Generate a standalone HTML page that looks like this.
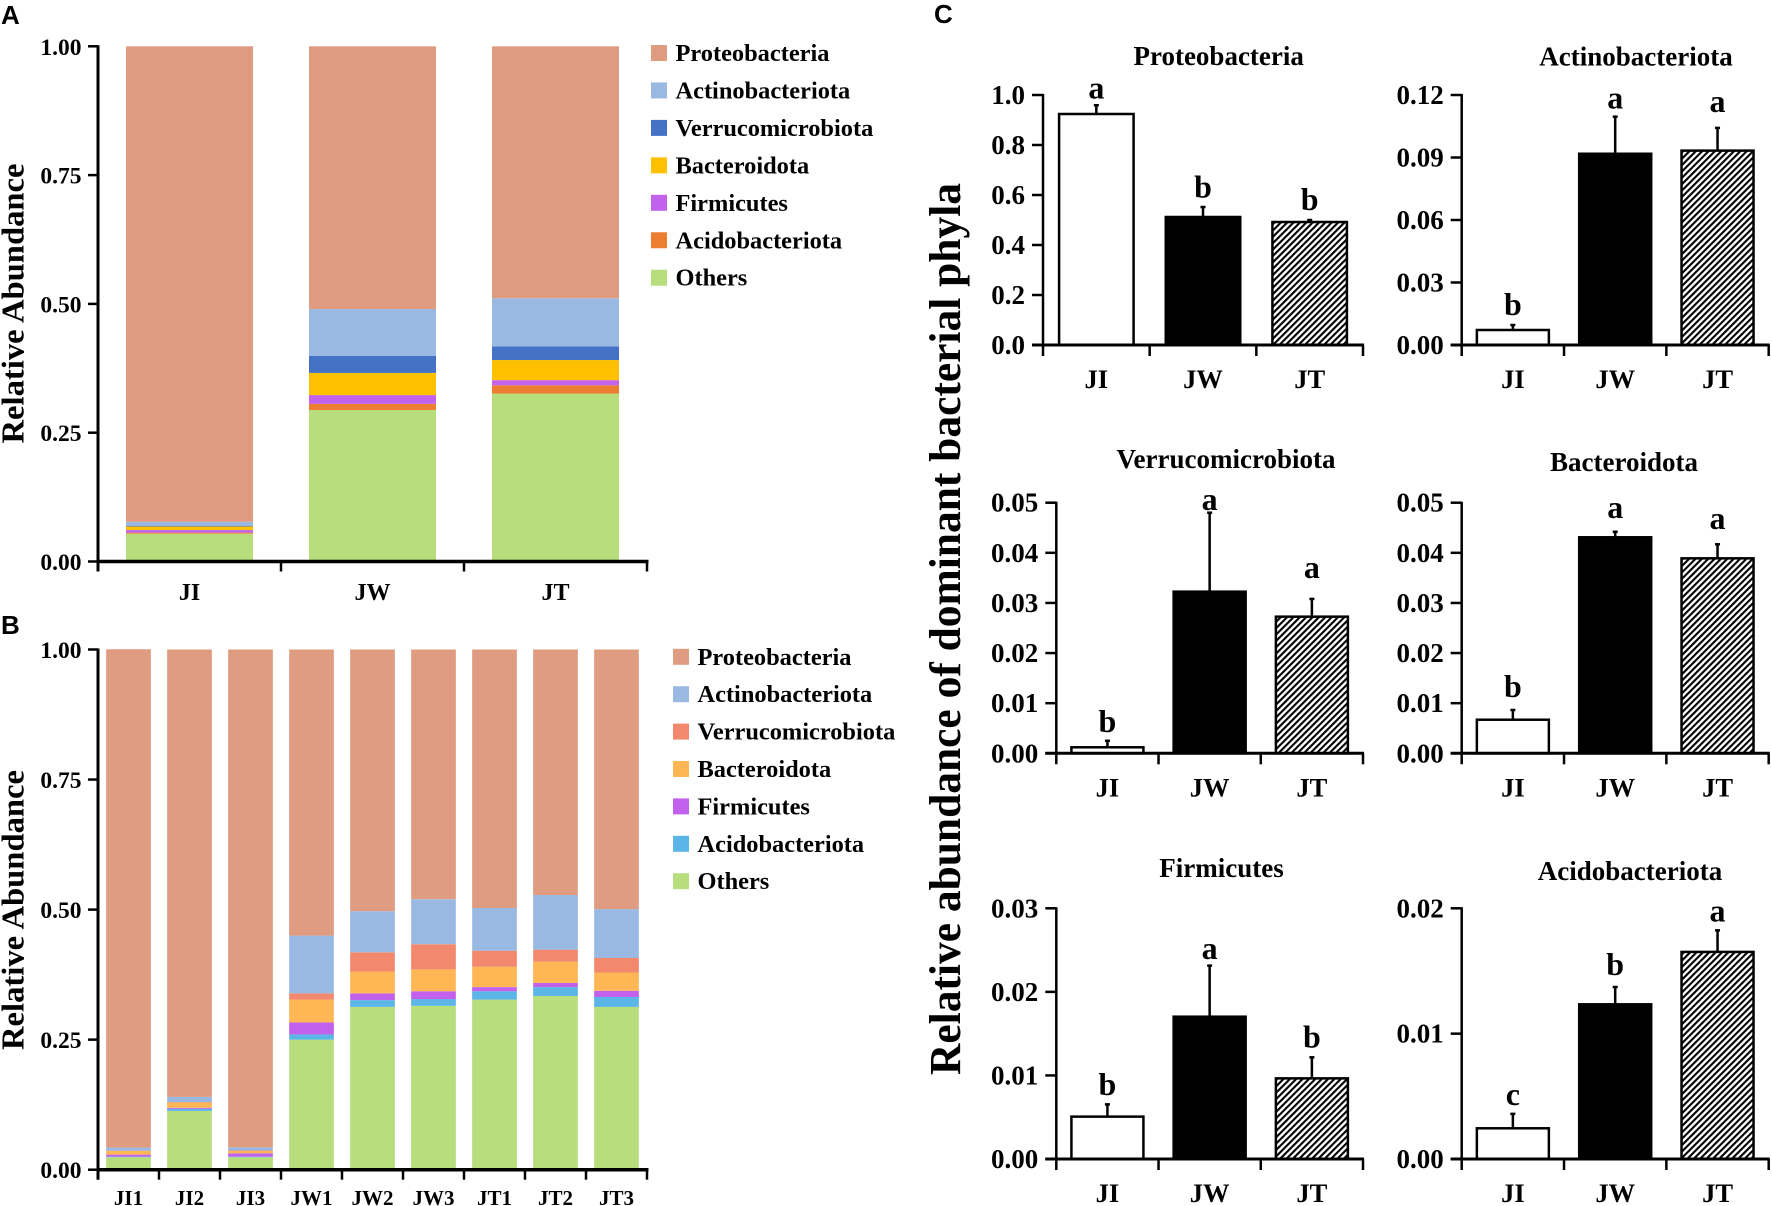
<!DOCTYPE html>
<html lang="en">
<head>
<meta charset="utf-8">
<title>Relative abundance of bacterial phyla</title>
<style>
html,body{margin:0;padding:0;background:#fff;}
svg{display:block;}
text{font-family:"Liberation Serif",serif;font-weight:bold;fill:#000;}
.letter{font-family:"Liberation Sans",sans-serif;font-size:26px;}
</style>
</head>
<body>
<svg id="fig" xmlns="http://www.w3.org/2000/svg" width="1772" height="1206" viewBox="0 0 1772 1206">
  <defs>
    <pattern id="hatch" patternUnits="userSpaceOnUse" width="4.5" height="4.5" patternTransform="rotate(45)">
      <rect width="4.5" height="4.5" fill="#fff"></rect>
      <rect width="2.1" height="4.5" fill="#000"></rect>
    </pattern>
  </defs>
  <text class="letter" x="1" y="24">A</text>
  <text class="letter" x="1" y="634">B</text>
  <text class="letter" x="934" y="23">C</text>
  <text transform="translate(23.5,443.5) rotate(-90)" font-size="32" textLength="280" lengthAdjust="spacingAndGlyphs">Relative Abundance</text>
  <text transform="translate(23.5,1050) rotate(-90)" font-size="32" textLength="280" lengthAdjust="spacingAndGlyphs">Relative Abundance</text>
  <text transform="translate(960,1075) rotate(-90)" font-size="44" textLength="892" lengthAdjust="spacingAndGlyphs">Relative abundance of dominant bacterial phyla</text>
  <g id="plots"></g>
</svg>
<script>
// ---------- Panel A / B data ----------
const stackOrder = ['Others','Acidobacteriota','Firmicutes','Bacteroidota','Verrucomicrobiota','Actinobacteriota','Proteobacteria'];
const legendOrder = ['Proteobacteria','Actinobacteriota','Verrucomicrobiota','Bacteroidota','Firmicutes','Acidobacteriota','Others'];
const stackTicks = [0, 0.25, 0.5, 0.75, 1];
const stackTickLabels = ['0.00','0.25','0.50','0.75','1.00'];

const aCategories = ['JI','JW','JT'];
const aOthers = [0.054,0.294,0.326];
const aAcido = [0.002,0.012,0.016];
const aFirm = [0.005,0.017,0.010];
const aBact = [0.007,0.043,0.039];
const aVerr = [0.0015,0.033,0.0265];
const aActino = [0.0075,0.091,0.0935];
const aProteo = [0.923,0.510,0.489];

const bCategories = ['JI1','JI2','JI3','JW1','JW2','JW3','JT1','JT2','JT3'];
const bOthers = [0.024,0.113,0.024,0.25,0.313,0.315,0.327,0.334,0.313];
const bAcido = [0.001,0.004,0.001,0.01,0.013,0.013,0.016,0.017,0.019];
const bFirm = [0.004,0.002,0.0065,0.023,0.013,0.015,0.008,0.008,0.012];
const bBact = [0.007,0.010,0.0045,0.044,0.042,0.042,0.039,0.041,0.035];
const bVerr = [0.0005,0.001,0.001,0.012,0.037,0.0485,0.031,0.023,0.028];
const bActino = [0.006,0.010,0.006,0.111,0.079,0.0865,0.082,0.105,0.094];
const bProteo = [0.958,0.860,0.957,0.55,0.503,0.48,0.497,0.472,0.499];

const aColors = {Proteobacteria:'#DF9C80',Actinobacteriota:'#9AB9E2',Verrucomicrobiota:'#4472C4',Bacteroidota:'#FFC000',Firmicutes:'#C261EC',Acidobacteriota:'#ED7D31',Others:'#B8DD7C'};
const bColors = {Proteobacteria:'#DF9C80',Actinobacteriota:'#9AB9E2',Verrucomicrobiota:'#F2886E',Bacteroidota:'#FFB756',Firmicutes:'#C261EC',Acidobacteriota:'#5BB5E6',Others:'#B8DD7C'};

// ---------- Panel C data ----------
const groupLabels = ['JI','JW','JT'];
const cTitles = ['Proteobacteria','Actinobacteriota','Verrucomicrobiota','Bacteroidota','Firmicutes','Acidobacteriota'];
const cMeans = [
  [0.924,0.512,0.492],
  [0.0072,0.0918,0.0933],
  [0.0012,0.03225,0.02726],
  [0.0067,0.0431,0.0389],
  [0.00507,0.01703,0.00965],
  [0.00245,0.01234,0.01652]
];
const cErrorTops = [
  [0.959,0.552,0.50],
  [0.0096,0.1096,0.1042],
  [0.0025,0.048,0.0308],
  [0.00864,0.0442,0.0417],
  [0.00654,0.02314,0.01217],
  [0.0036,0.01372,0.01824]
];
const cLetters = [['a','b','b'],['b','a','a'],['b','a','a'],['b','a','a'],['b','a','b'],['c','b','a']];
const cTicks = [
  [0,0.2,0.4,0.6,0.8,1.0],
  [0,0.03,0.06,0.09,0.12],
  [0,0.01,0.02,0.03,0.04,0.05],
  [0,0.01,0.02,0.03,0.04,0.05],
  [0,0.01,0.02,0.03],
  [0,0.01,0.02]
];
const cTickLabels = [
  ['0.0','0.2','0.4','0.6','0.8','1.0'],
  ['0.00','0.03','0.06','0.09','0.12'],
  ['0.00','0.01','0.02','0.03','0.04','0.05'],
  ['0.00','0.01','0.02','0.03','0.04','0.05'],
  ['0.00','0.01','0.02','0.03'],
  ['0.00','0.01','0.02']
];

// ---------- Drawing helpers ----------
const NS = 'http://www.w3.org/2000/svg';
const root = document.getElementById('plots');

function line(x1,y1,x2,y2,w,name){
  const el = document.createElementNS(NS,'line');
  el.setAttribute('x1',x1);el.setAttribute('y1',y1);el.setAttribute('x2',x2);el.setAttribute('y2',y2);
  el.setAttribute('stroke','#000');el.setAttribute('stroke-width',w);
  
  
  root.appendChild(el);
  return el;
}
function rect(x,y,w,h,fill,name){
  const el = document.createElementNS(NS,'rect');
  el.setAttribute('x',x);el.setAttribute('y',y);el.setAttribute('width',w);el.setAttribute('height',h);
  el.setAttribute('fill',fill);
  
  
  root.appendChild(el);
  return el;
}
function label(str,x,y,size,anchor,name){
  const el = document.createElementNS(NS,'text');
  el.setAttribute('x',x);el.setAttribute('y',y);el.setAttribute('font-size',size);
  el.setAttribute('text-anchor',anchor);
  el.textContent = str;
  
  
  root.appendChild(el);
  return el;
}

function stackedPanel(id,cats,series,colors,f){
  const y = v => f.y0 - v*(f.y0-f.y1);
  const band = (f.x1-f.x0)/cats.length;
  series.forEach(function(vals,si){
    cats.forEach(function(cat,ci){
      let base = 0;
      for(let k=0;k<si;k++){ base += series[k][ci]; }
      const cx = f.x0 + band*(ci+0.5);
      rect(cx-f.barW/2, y(base+vals[ci]), f.barW, y(base)-y(base+vals[ci]), colors[stackOrder[si]], id+'-bar-'+cat+'-'+stackOrder[si]);
    });
  });
  line(f.x0,f.y1-1,f.x0,f.y0+f.tickDown,3,id+'-y-axis');
  line(f.x0-1.5,f.y0,f.x1+1.5,f.y0,3.5,id+'-x-axis');
  stackTicks.forEach(function(t,i){
    line(f.x0-10,y(t),f.x0,y(t),2.5,id+'-y-tick-'+stackTickLabels[i]);
    label(stackTickLabels[i],f.x0-16.5,y(t)+8.5,23.5,'end',id+'-y-tick-label-'+stackTickLabels[i]);
  });
  for(let i=1;i<=cats.length;i++){
    line(f.x0+band*i,f.y0,f.x0+band*i,f.y0+f.tickDown,2.5,id+'-x-tick-'+i);
  }
  cats.forEach(function(cat,ci){
    label(cat,f.x0+band*(ci+0.5),f.labelY,f.labelSize,'middle',id+'-x-label-'+cat);
  });
  legendOrder.forEach(function(n,i){
    const cy = f.legY + i*f.legStep;
    rect(f.legX,cy-8,16,16,colors[n],id+'-legend-swatch-'+n);
    label(n,f.legX+24.5,cy+8,24.4,'start',id+'-legend-entry-'+n);
  });
}

function barPanel(idx,f){
  const id = 'panel-c-'+cTitles[idx];
  const ymax = cTicks[idx][cTicks[idx].length-1];
  const y = v => f.y0 - (v/ymax)*(f.y0-f.y1);
  const band = (f.x1-f.x0)/3;
  const fills = ['#fff','#000','url(#hatch)'];
  label(cTitles[idx],f.titleX,f.titleY+9,27,'middle',id+'-title');
  groupLabels.forEach(function(g,i){
    const cx = f.x0+band*(i+0.5);
    const top = y(cMeans[idx][i]);
    const errTop = y(cErrorTops[idx][i]);
    line(cx,errTop,cx,top,2.5,id+'-error-bar-'+g);
    line(cx-2.5,errTop,cx+2.5,errTop,2.5,id+'-error-cap-'+g);
    const b = rect(cx-f.barW/2,top,f.barW,f.y0-top,fills[i],id+'-bar-'+g);
    b.setAttribute('stroke','#000');
    b.setAttribute('stroke-width','2.5');
    label(cLetters[idx][i],cx,errTop-f.letterGap[i],32,'middle',id+'-significance-'+g);
    label(g,cx,f.y0+43,26.5,'middle',id+'-x-label-'+g);
  });
  line(f.x0,f.y1-1,f.x0,f.y0+11,2.5,id+'-y-axis');
  line(f.x0-11,f.y0,f.x1+1,f.y0,3,id+'-x-axis');
  for(let i=1;i<=3;i++){
    line(f.x0+band*i,f.y0,f.x0+band*i,f.y0+11,2.5,id+'-x-tick-'+i);
  }
  cTicks[idx].forEach(function(t,i){
    line(f.x0-11,y(t),f.x0,y(t),2.5,id+'-y-tick-'+cTickLabels[idx][i]);
    label(cTickLabels[idx][i],f.x0-18,y(t)+9,27,'end',id+'-y-tick-label-'+cTickLabels[idx][i]);
  });
}

// ---------- Render ----------
stackedPanel('panel-a',aCategories,[aOthers,aAcido,aFirm,aBact,aVerr,aActino,aProteo],aColors,
  {x0:98,x1:647,y0:561.5,y1:46.3,barW:127,tickDown:10,labelY:600,labelSize:24,legX:651,legY:53,legStep:37.45});
stackedPanel('panel-b',bCategories,[bOthers,bAcido,bFirm,bBact,bVerr,bActino,bProteo],bColors,
  {x0:98,x1:647,y0:1169.7,y1:649.5,barW:44.7,tickDown:10,labelY:1205,labelSize:21,legX:673,legY:656.8,legStep:37.4});

barPanel(0,{x0:1043,x1:1363,y0:345,y1:95,barW:74.5,titleX:1218.7,titleY:56,letterGap:[7,9.3,10]});
barPanel(1,{x0:1461.7,x1:1768.7,y0:345,y1:95,barW:72,titleX:1636,titleY:56.7,letterGap:[10,8,15.7]});
barPanel(2,{x0:1056.3,x1:1363,y0:753.3,y1:502.7,barW:72,titleX:1226,titleY:459,letterGap:[9,2.7,20.7]});
barPanel(3,{x0:1461.7,x1:1768.7,y0:753.3,y1:502.7,barW:72,titleX:1624,titleY:462,letterGap:[13,14,15.3]});
barPanel(4,{x0:1056.3,x1:1363,y0:1159,y1:908.3,barW:72,titleX:1221.5,titleY:868,letterGap:[9.3,6.7,9.7]});
barPanel(5,{x0:1461.7,x1:1768.7,y0:1159,y1:908.3,barW:72,titleX:1630,titleY:871,letterGap:[8.7,12,8.7]});
</script>
</body>
</html>
